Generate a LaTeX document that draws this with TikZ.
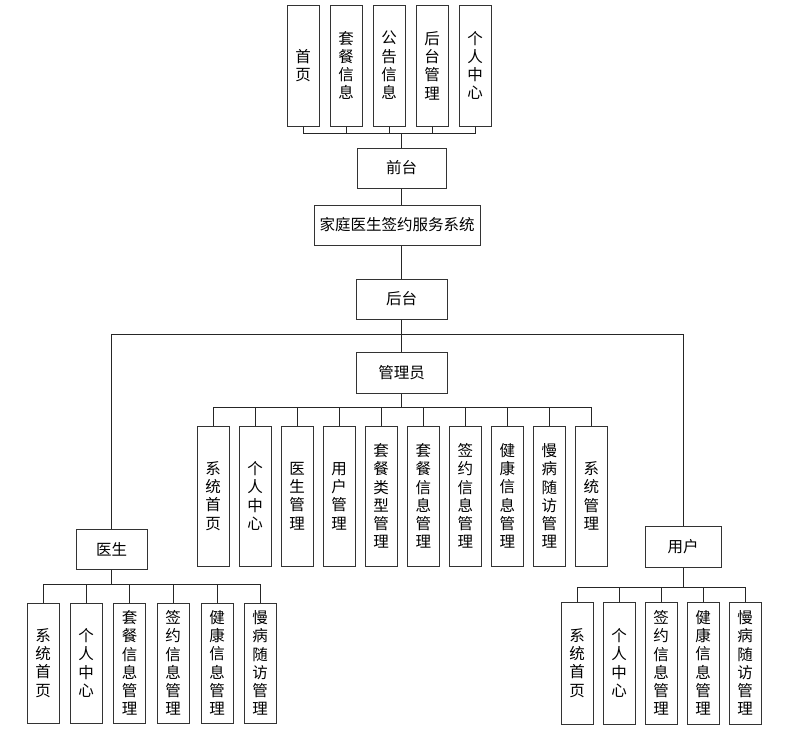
\documentclass[tikz,border=0pt]{standalone}
\usepackage{fontspec}
\newfontfamily\cjk{Noto Sans CJK SC}
\begin{document}
\begin{tikzpicture}[x=1pt,y=-1pt,
  box/.style={draw=black!80, line width=1pt, fill=white, inner sep=0pt, align=center,
    font=\cjk\fontsize{15.5}{18.3}\selectfont},
  hbox/.style={box, minimum width=#1},
  vbox/.style={box, minimum width=32pt, minimum height=#1},
  conn/.style={draw=black!85, line width=1pt}]
\useasboundingbox (0,0) rectangle (796,732);
% top level
\node[vbox=121pt] (t1) at (303,65.5) {首\\页};
\node[vbox=121pt] (t2) at (346,65.5) {套\\餐\\信\\息};
\node[vbox=121pt] (t3) at (389,65.5) {公\\告\\信\\息};
\node[vbox=121pt] (t4) at (432,65.5) {后\\台\\管\\理};
\node[vbox=121pt] (t5) at (475,65.5) {个\\人\\中\\心};
\node[hbox=89pt, minimum height=40pt] (front) at (401.5,168) {前台};
\node[hbox=166pt, minimum height=40pt] (sys) at (397,225) {家庭医生签约服务系统};
\node[hbox=91pt, minimum height=40pt] (back) at (401.5,299) {后台};
\node[hbox=91pt, minimum height=41pt] (mgr) at (401.5,372.5) {管理员};
\node[hbox=71pt, minimum height=40pt] (doc) at (111.5,549) {医生};
\node[hbox=76pt, minimum height=41pt] (usr) at (683,546.5) {用户};
% admin children
\foreach \t [count=\i from 0] in {系\\统\\首\\页, 个\\人\\中\\心, 医\\生\\管\\理, 用\\户\\管\\理,
  套\\餐\\类\\型\\管\\理, 套\\餐\\信\\息\\管\\理, 签\\约\\信\\息\\管\\理, 健\\康\\信\\息\\管\\理,
  慢\\病\\随\\访\\管\\理, 系\\统\\管\\理}
  \node[vbox=140pt] (a\i) at ({213+42.05*\i},496) {\t};
% doctor children
\foreach \t/\x [count=\i from 0] in {系\\统\\首\\页/43, 个\\人\\中\\心/86, 套\\餐\\信\\息\\管\\理/129.5,
  签\\约\\信\\息\\管\\理/173, 健\\康\\信\\息\\管\\理/217, 慢\\病\\随\\访\\管\\理/260}
  \node[vbox=120pt] (d\i) at (\x,663) {\t};
% user children
\foreach \t [count=\i from 0] in {系\\统\\首\\页, 个\\人\\中\\心, 签\\约\\信\\息\\管\\理,
  健\\康\\信\\息\\管\\理, 慢\\病\\随\\访\\管\\理}
  \node[vbox=122pt] (u\i) at ({577+42*\i},663) {\t};
% buses
\coordinate (topbus) at (401.5,133);
\coordinate (bigbus) at (401.5,334);
\coordinate (mbus) at (401.5,407);
\coordinate (dbus) at (111.5,584);
\coordinate (ubus) at (683,587);
\foreach \i in {1,...,5} \draw[conn] (t\i.south) |- (topbus);
\draw[conn] (topbus) -- (front.north);
\draw[conn] (front.south) -- (front.south |- sys.north);
\draw[conn] (back.north |- sys.south) -- (back.north);
\draw[conn] (back.south) -- (bigbus);
\draw[conn] (bigbus) -- (mgr.north);
\draw[conn] (doc.north) |- (bigbus);
\draw[conn] (usr.north) |- (bigbus);
\draw[conn] (mgr.south) -- (mbus);
\foreach \i in {0,...,9} \draw[conn] (a\i.north) |- (mbus);
\draw[conn] (doc.south) -- (dbus);
\foreach \i in {0,...,5} \draw[conn] (d\i.north) |- (dbus);
\draw[conn] (usr.south) -- (ubus);
\foreach \i in {0,...,4} \draw[conn] (u\i.north) |- (ubus);
\end{tikzpicture}
\end{document}
